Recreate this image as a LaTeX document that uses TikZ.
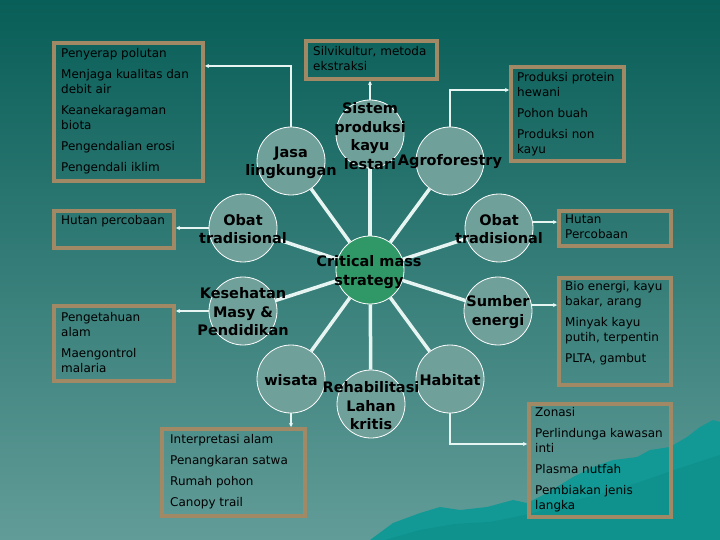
\documentclass[tikz,border=0pt]{standalone}
\usepackage{fontspec}
\setmainfont{DejaVu Sans}
\usepackage{tikz}
\usetikzlibrary{
    arrows.meta,
    calc,
    positioning
}
\definecolor{bgtop}{HTML}{085E58}
\definecolor{bgbot}{HTML}{629C98}
\definecolor{petalfill}{HTML}{70A09A}
\definecolor{corefill}{HTML}{2F9866}
\definecolor{boxline}{HTML}{A08964}
\definecolor{wire}{HTML}{E6F4F2}
\definecolor{hill}{HTML}{139995}
\definecolor{hilldark}{HTML}{0F918E}

\begin{document}
\begin{tikzpicture}[x=1pt, y=-1pt,
    petal/.style={circle, draw=white, line width=0.8pt, fill=petalfill, minimum size=68pt, inner sep=0pt},
    core/.style={petal, fill=corefill},
    ptxt/.style={font=\bfseries\fontsize{14.5}{18.5}\selectfont, align=center, inner sep=0pt},
    infobox/.style={draw=boxline, line width=4pt, inner sep=0pt},
    btxt/.style={font=\fontsize{12}{15}\selectfont, align=left, anchor=north west, inner sep=0pt},
    spoke/.style={draw=wire, line width=3.5pt},
    link/.style={draw=wire, line width=2pt, -{Stealth[length=4pt,width=4pt]}}]
    % backdrop
    \shade[top color=bgtop, bottom color=bgbot] (0,0) rectangle (720,540);
    \fill[hill] (370,540) -- (393,523) -- (420,513) -- (440,507) -- (460,510) -- (487,507) -- (513,500)
        -- (527,503) -- (547,493) -- (573,477) -- (593,467) -- (613,460) -- (637,457) -- (650,450)
        -- (670,447) -- (687,437) -- (700,427) -- (713,420) -- (720,422) -- (720,540) -- cycle;
    \fill[hilldark] (385,540) -- (420,530) -- (455,524) -- (490,522) -- (530,514) -- (565,503)
        -- (600,494) -- (640,482) -- (680,468) -- (720,455) -- (720,540) -- cycle;

    \node[core] (cms) at (370,270) {};
    \node[petal] (sistem) at (370,134) {};
    \node[petal] (agro) at (450,161) {};
    \node[petal] (obatR) at (499,228) {};
    \node[petal] (sumber) at (498,311) {};
    \node[petal] (habitat) at (450,379) {};
    \node[petal] (rehab) at (371,404) {};
    \node[petal] (wisata) at (291,379) {};
    \node[petal] (kesehatan) at (243,311) {};
    \node[petal] (obatL) at (243,228) {};
    \node[petal] (jasa) at (291,161) {};

    \draw[spoke] (cms) -- (sistem);
    \draw[spoke] (cms) -- (agro);
    \draw[spoke] (cms) -- (obatR);
    \draw[spoke] (cms) -- (sumber);
    \draw[spoke] (cms) -- (habitat);
    \draw[spoke] (cms) -- (rehab);
    \draw[spoke] (cms) -- (wisata);
    \draw[spoke] (cms) -- (kesehatan);
    \draw[spoke] (cms) -- (obatL);
    \draw[spoke] (cms) -- (jasa);

    \node[ptxt] (cmsT) at (369,272) {Critical mass\\strategy};
    \node[ptxt] (sistemT) at (370,136) {Sistem\\produksi\\kayu\\lestari};
    \node[ptxt] (agroT) at (450,162) {Agroforestry};
    \node[ptxt] (obatRT) at (499,229) {Obat\\tradisional};
    \node[ptxt] (sumberT) at (498,312) {Sumber\\energi};
    \node[ptxt] (habitatT) at (450,380) {Habitat};
    \node[ptxt] (rehabT) at (371,406) {Rehabilitasi\\Lahan\\kritis};
    \node[ptxt] (wisataT) at (291,380) {wisata};
    \node[ptxt] (kesehatanT) at (243,312) {Kesehatan\\Masy \&\\Pendidikan};
    \node[ptxt] (obatLT) at (243,229) {Obat\\tradisional};
    \node[ptxt] (jasaT) at (291,163) {Jasa\\lingkungan};

    \node[infobox, minimum width=149, minimum height=138] (b1) at (128.5,112) {};
    \node[btxt] (t1) at ([shift={(9,7)}]b1.north west) {Penyerap polutan\\[6pt]Menjaga kualitas dan\\debit air\\[6pt]Keanekaragaman\\biota\\[6pt]Pengendalian erosi\\[6pt]Pengendali iklim};
    \node[infobox, minimum width=131, minimum height=38] (b2) at (371.5,60) {};
    \node[btxt] (t2) at ([shift={(9,7)}]b2.north west) {Silvikultur, metoda\\ekstraksi};
    \node[infobox, minimum width=113, minimum height=94] (b3) at (567.5,114) {};
    \node[btxt] (t3) at ([shift={(8,7)}]b3.north west) {Produksi protein\\hewani\\[6pt]Pohon buah\\[6pt]Produksi non\\kayu};
    \node[infobox, minimum width=120, minimum height=37] (b4) at (114,229.5) {};
    \node[btxt] (t4) at ([shift={(9,6)}]b4.north west) {Hutan percobaan};
    \node[infobox, minimum width=112, minimum height=35] (b5) at (615,228.5) {};
    \node[btxt] (t5) at ([shift={(8,6)}]b5.north west) {Hutan\\Percobaan};
    \node[infobox, minimum width=120, minimum height=75] (b6) at (114,343.5) {};
    \node[btxt] (t6) at ([shift={(9,8)}]b6.north west) {Pengetahuan\\alam\\[6pt]Maengontrol\\malaria};
    \node[infobox, minimum width=143, minimum height=87] (b7) at (233.5,472.5) {};
    \node[btxt] (t7) at ([shift={(10,7)}]b7.north west) {Interpretasi alam\\[6pt]Penangkaran satwa\\[6pt]Rumah pohon\\[6pt]Canopy trail};
    \node[infobox, minimum width=112, minimum height=107] (b8) at (615,331.5) {};
    \node[btxt] (t8) at ([shift={(8,5)}]b8.north west) {Bio energi, kayu\\bakar, arang\\[6pt]Minyak kayu\\putih, terpentin\\[6pt]PLTA, gambut};
    \node[infobox, minimum width=142, minimum height=113] (b9) at (600,460.5) {};
    \node[btxt] (t9) at ([shift={(8,5)}]b9.north west) {Zonasi\\[6pt]Perlindunga kawasan\\inti\\[6pt]Plasma nutfah\\[6pt]Pembiakan jenis\\langka};

    \coordinate (j1) at (205,66);
    \coordinate (a3) at (509,90);
    \coordinate (h9) at (527,444);
    \draw[link] (jasa.north) |- (j1);
    \draw[link] (sistem.north) -- (sistem.north |- b2.south);
    \draw[link] (agro.north) |- (a3);
    \draw[link] (obatL.west) -- (obatL.west -| b4.east);
    \draw[link] (obatR.10) -- (obatR.10 -| b5.west);
    \draw[link] (kesehatan.west) -- (kesehatan.west -| b6.east);
    \draw[link] (sumber.10) -- (sumber.10 -| b8.west);
    \draw[link] (wisata.south) -- (wisata.south |- b7.north);
    \draw[link] (habitat.south) |- (h9);
\end{tikzpicture}
\end{document}
